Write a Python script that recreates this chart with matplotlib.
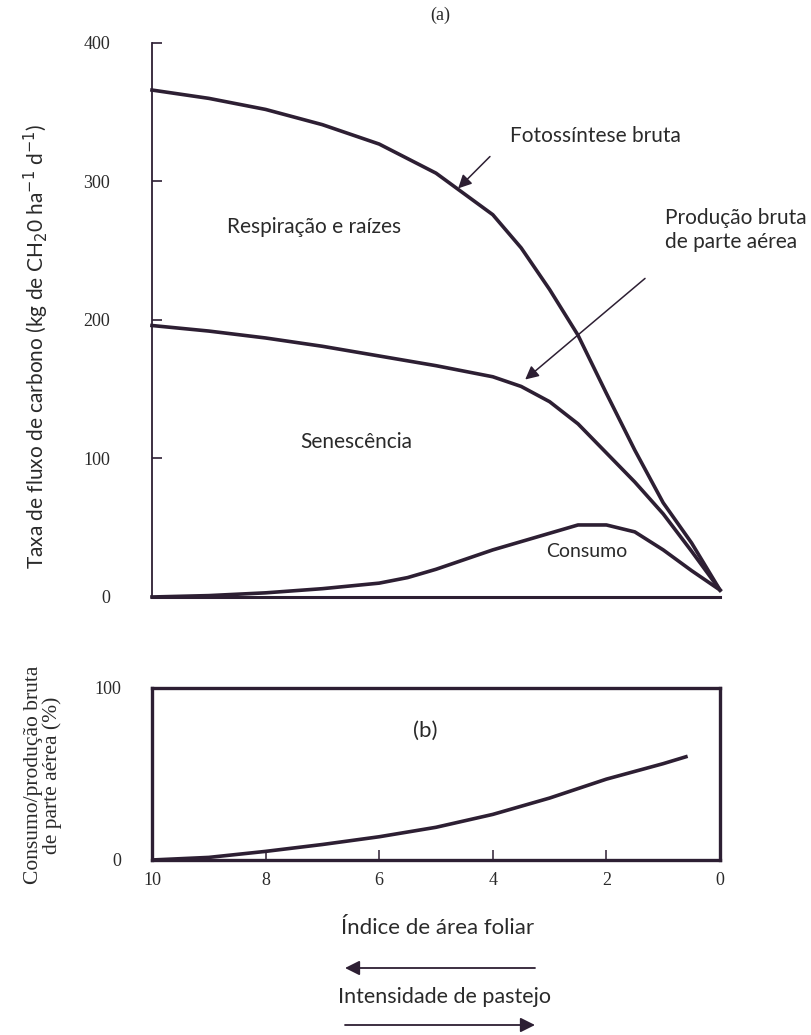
import matplotlib
matplotlib.use('Agg')
import matplotlib.pyplot as plt

'''DATA'''
foto_x = [10, 9, 8, 7, 6, 5, 4, 3.5, 3, 2.5, 2, 1.5, 1, 0.5, 0]
foto_y = [366, 360, 352, 341, 327, 306, 276, 252, 222, 189, 147, 106, 68, 39, 5]

prod_x = [10, 9, 8, 7, 6, 5, 4, 3.5, 3, 2.5, 2, 1.5, 1, 0.5, 0]
prod_y = [196, 192, 187, 181, 174, 167, 159, 152, 141, 125, 104, 83, 60, 33, 5]

cons_x = [10, 9, 8, 7, 6, 5.5, 5, 4.5, 4, 3.5, 3, 2.5, 2, 1.5, 1, 0.5, 0]
cons_y = [0, 1, 3, 6, 10, 14, 20, 27, 34, 40, 46, 52, 52, 47, 34, 19, 5]

ratio_x = [10, 9, 8, 7, 6, 5, 4, 3, 2, 1, 0.6]
ratio_y = [0, 1.5, 5, 9, 13.5, 19, 26.5, 36, 47, 56, 60]

yticks_a = [0, 100, 200, 300, 400]
yticks_b = [0, 100]
xticks = [10, 8, 6, 4, 2, 0]

LINE = '#2d1f33'
TXT = '#2a2a2a'
SERIF = 'Liberation Serif'
SANS = 'Lato'

'''Plot'''
fig = plt.figure(figsize=(8.11, 10.35), dpi=100)

ax1 = fig.add_axes([0.1874, 0.4232, 0.7004, 0.5353])
ax2 = fig.add_axes([0.1874, 0.1691, 0.7004, 0.1662])

for x, y in [(foto_x, foto_y), (prod_x, prod_y), (cons_x, cons_y)]:
    ax1.plot(x, y, color=LINE, lw=2.6, solid_joinstyle='round', clip_on=False)

ax1.set_xlim(10, 0)
ax1.set_ylim(0, 400)
ax1.spines['top'].set_visible(False)
ax1.spines['right'].set_visible(False)
ax1.spines['left'].set_linewidth(1.3)
ax1.spines['bottom'].set_linewidth(2.2)
for s in ax1.spines.values():
    s.set_color(LINE)
ax1.set_xticks([])
ax1.set_yticks(yticks_a)
ax1.tick_params(axis='y', direction='in', length=7, width=1.2, color=LINE,
                pad=30, labelsize=13, labelcolor=TXT)
for lb in ax1.get_yticklabels():
    lb.set_family(SERIF)

arr = dict(arrowstyle='-|>', color=LINE, lw=1.1, mutation_scale=20, shrinkA=0, shrinkB=0)
fs = 15
ax1.text(3.70, 333, 'Fotossíntese bruta', fontsize=fs, family=SANS, color=TXT, va='center')
ax1.annotate('', xy=(4.61, 295), xytext=(4.05, 318), arrowprops=arr)
ax1.text(7.15, 267, 'Respiração e raízes', fontsize=fs, family=SANS, color=TXT,
         ha='center', va='center')
ax1.text(0.97, 265, 'Produção bruta\nde parte aérea', fontsize=fs, family=SANS,
         color=TXT, va='center', linespacing=1.2)
ax1.annotate('', xy=(3.43, 157), xytext=(1.32, 230), arrowprops=arr)
ax1.text(6.41, 112, 'Senescência', fontsize=fs, family=SANS, color=TXT,
         ha='center', va='center')
ax1.text(2.35, 33, 'Consumo', fontsize=14, family=SANS, color=TXT,
         ha='center', va='center')

ax2.plot(ratio_x, ratio_y, color=LINE, lw=2.6, solid_joinstyle='round')
ax2.set_xlim(10, 0)
ax2.set_ylim(0, 100)
for s in ax2.spines.values():
    s.set_linewidth(2.4)
    s.set_color(LINE)
ax2.set_xticks(xticks)
ax2.set_yticks(yticks_b)
ax2.tick_params(axis='x', direction='in', length=7, width=1.1, color=LINE,
                pad=9, labelsize=13, labelcolor=TXT)
ax2.tick_params(axis='y', length=0, pad=22, labelsize=13, labelcolor=TXT)
for lb in ax2.get_xticklabels() + ax2.get_yticklabels():
    lb.set_family(SERIF)
ax2.text(5.19, 75, '(b)', fontsize=16, family=SANS, color=TXT, ha='center', va='center')

fig.text(440 / 811, 1 - 15 / 1035, '(a)', fontsize=13, family=SERIF, color=TXT,
         ha='center', va='center')
fig.text(36 / 811, 1 - 347 / 1035,
         'Taxa de fluxo de carbono (kg de CH$_2$0 ha$^{-1}$ d$^{-1}$)',
         fontsize=15, family=SANS, color=TXT, rotation=90, ha='center', va='center')
fig.text(43 / 811, 1 - 775 / 1035, 'Consumo/produção bruta\nde parte aérea (%)',
         fontsize=15.5, family=SERIF, color=TXT, rotation=90, ha='center', va='center',
         multialignment='center', linespacing=1.0)
fig.text(438 / 811, 1 - 928 / 1035, 'Índice de área foliar', fontsize=16, family=SANS,
         color=TXT, ha='center', va='center')
fig.text(444 / 811, 1 - 997 / 1035, 'Intensidade de pastejo', fontsize=15.5, family=SANS,
         color=TXT, ha='center', va='center')

arr2 = dict(arrowstyle='-|>', color=LINE, lw=1.3, mutation_scale=22, shrinkA=0, shrinkB=0)
fig.add_artist(plt.Annotation('', xy=(345 / 811, 1 - 968 / 1035), xytext=(535 / 811, 1 - 968 / 1035),
                              xycoords='figure fraction', textcoords='figure fraction',
                              arrowprops=arr2))
fig.add_artist(plt.Annotation('', xy=(535 / 811, 1 - 1025 / 1035), xytext=(345 / 811, 1 - 1025 / 1035),
                              xycoords='figure fraction', textcoords='figure fraction',
                              arrowprops=arr2))

fig.savefig('out.png', dpi=100)
